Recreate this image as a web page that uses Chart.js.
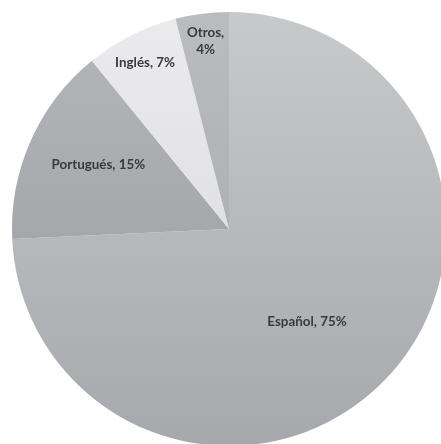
<!DOCTYPE html>
<html>
<head>
<meta charset="utf-8">
<script src="https://cdn.jsdelivr.net/npm/chart.js@4"></script>
<style>
  html, body { margin: 0; padding: 0; background: #ffffff; overflow: hidden; }
  #wrap { position: absolute; left: 0; top: 0; width: 458px; height: 458px; }
</style>
</head>
<body>
<div id="wrap"><canvas id="chart"></canvas></div>
<script>
// Idiomas
const categories = ['Español', 'Portugués', 'Inglés', 'Otros'];
const values = [75, 15, 7, 4];
const pointLabels = [['Español, 75%'], ['Portugués, 15%'], ['Inglés, 7%'], ['Otros,', '4%']];

// Shading for each slice: [top, bottom]
const shades = [
  ['#c8c9cb', '#a7a8ab'],
  ['#b6b7ba', '#97989b'],
  ['#ebebed', '#d6d7d9'],
  ['#bbbcbe', '#a3a4a7']
];
// Label placement: fraction of radius, and turn (degrees) away from the bisector
const labelRadius = [0.56, 0.67, 0.86, 0.87];
const labelTurn = [6.4, 2, 0, 0];

function sliceFill(ctx) {
  const chart = ctx.chart;
  const area = chart.chartArea;
  if (!area) return shades[ctx.dataIndex][0];
  const g = chart.ctx.createLinearGradient(0, area.top, 0, area.bottom);
  g.addColorStop(0, shades[ctx.dataIndex][0]);
  g.addColorStop(1, shades[ctx.dataIndex][1]);
  return g;
}

const sliceLabels = {
  id: 'sliceLabels',
  afterDatasetsDraw(chart) {
    const c = chart.ctx;
    const meta = chart.getDatasetMeta(0);
    c.save();
    c.font = 'bold 13.4px Lato, "Open Sans", sans-serif';
    c.fillStyle = '#3a3a3a';
    c.textAlign = 'center';
    c.textBaseline = 'middle';
    meta.data.forEach((arc, i) => {
      const p = arc.getProps(['x', 'y', 'startAngle', 'endAngle', 'outerRadius'], true);
      const mid = (p.startAngle + p.endAngle) / 2 + labelTurn[i] * Math.PI / 180;
      const r = p.outerRadius * labelRadius[i];
      const x = p.x + Math.cos(mid) * r;
      const y = p.y + Math.sin(mid) * r;
      const lines = pointLabels[i];
      const lh = 17;
      lines.forEach((t, k) => {
        c.fillText(t, x, y + (k - (lines.length - 1) / 2) * lh);
      });
    });
    c.restore();
  }
};

new Chart(document.getElementById('chart'), {
  type: 'pie',
  data: {
    labels: categories,
    datasets: [{
      data: values,
      backgroundColor: sliceFill,
      borderWidth: 0
    }]
  },
  options: {
    responsive: true,
    maintainAspectRatio: false,
    animation: false,
    layout: { padding: 12 },
    plugins: {
      legend: { display: false },
      tooltip: { enabled: false }
    }
  },
  plugins: [sliceLabels]
});
</script>
</body>
</html>
